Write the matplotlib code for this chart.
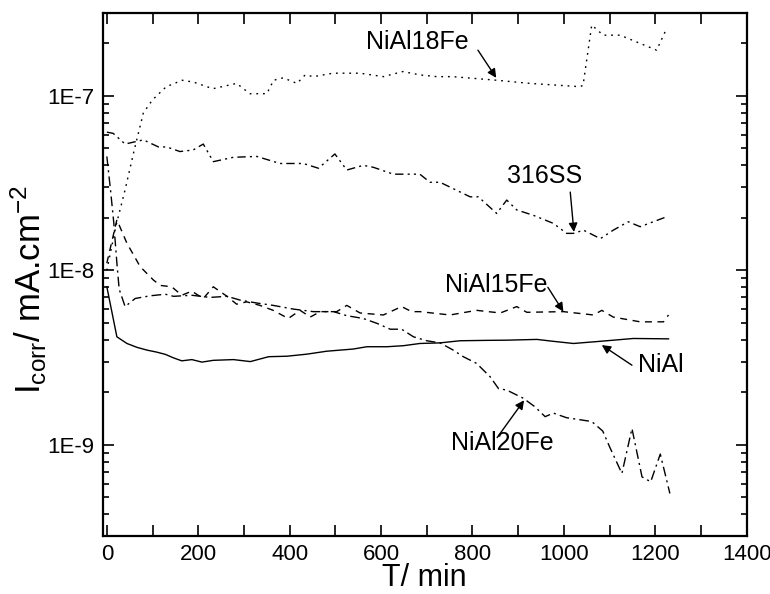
import numpy as np
import matplotlib
matplotlib.use("Agg")
import matplotlib.pyplot as plt
from matplotlib.ticker import MultipleLocator, LogLocator, FuncFormatter, NullFormatter

# --- data (time in min, current in mA/cm^2) --------------------------------

nial_t = [0, 22, 44, 66, 88, 109, 128, 146, 164, 186, 208, 233, 277, 314, 354,
          394, 438, 481, 539, 569, 613, 649, 685, 729, 773, 831, 875, 941, 977,
          1021, 1079, 1152, 1229]
nial_i = [8.05e-9, 4.16e-9, 3.81e-9, 3.62e-9, 3.49e-9, 3.4e-9, 3.3e-9, 3.15e-9,
          3.03e-9, 3.08e-9, 2.98e-9, 3.05e-9, 3.08e-9, 3.0e-9, 3.2e-9, 3.22e-9,
          3.31e-9, 3.44e-9, 3.54e-9, 3.65e-9, 3.65e-9, 3.7e-9, 3.81e-9, 3.84e-9,
          3.95e-9, 3.97e-9, 3.98e-9, 4.02e-9, 3.92e-9, 3.81e-9, 3.92e-9, 4.07e-9,
          4.05e-9]

nial15_t = [0, 22, 44, 73, 102, 117, 142, 164, 186, 211, 233, 263, 284, 306, 335,
            364, 397, 423, 445, 467, 503, 525, 554, 605, 645, 667, 685, 751, 809,
            861, 897, 919, 999, 1065, 1083, 1108, 1167, 1218, 1229]
nial15_i = [1.1e-8, 1.95e-8, 1.43e-8, 1.05e-8, 8.8e-9, 8.2e-9, 8.05e-9, 7.2e-9,
            7.6e-9, 6.9e-9, 8.05e-9, 7.1e-9, 6.4e-9, 6.6e-9, 6.3e-9, 5.9e-9,
            5.3e-9, 5.9e-9, 5.4e-9, 5.8e-9, 5.8e-9, 6.3e-9, 5.7e-9, 5.55e-9,
            6.2e-9, 5.8e-9, 5.8e-9, 5.55e-9, 5.9e-9, 5.7e-9, 6.2e-9, 5.75e-9,
            5.8e-9, 5.55e-9, 5.9e-9, 5.4e-9, 5.07e-9, 5.07e-9, 5.55e-9]

nial18_t = [0, 20, 40, 60, 80, 100, 130, 165, 190, 232, 284, 313, 350, 365, 386,
            416, 434, 452, 495, 554, 605, 648, 685, 722, 757, 853, 926, 1035,
            1042, 1061, 1086, 1123, 1203, 1225]
nial18_i = [1.0e-8, 1.8e-8, 2.9e-8, 4.9e-8, 8.0e-8, 9.5e-8, 1.13e-7, 1.23e-7,
            1.2e-7, 1.1e-7, 1.18e-7, 1.03e-7, 1.03e-7, 1.23e-7, 1.27e-7, 1.18e-7,
            1.32e-7, 1.29e-7, 1.35e-7, 1.35e-7, 1.29e-7, 1.38e-7, 1.32e-7,
            1.29e-7, 1.29e-7, 1.23e-7, 1.18e-7, 1.13e-7, 1.15e-7, 2.55e-7,
            2.23e-7, 2.23e-7, 1.83e-7, 2.44e-7]

nial20_t = [0, 8, 15, 22, 27, 40, 62, 95, 128, 146, 186, 226, 263, 292, 328, 364,
            408, 452, 496, 525, 561, 591, 620, 645, 671, 700, 729, 758, 780, 809,
            839, 857, 875, 911, 937, 959, 977, 1006, 1061, 1085, 1100, 1127, 1149,
            1171, 1190, 1211, 1232]
nial20_i = [4.5e-8, 2.9e-8, 1.9e-8, 1.1e-8, 7.8e-9, 6.2e-9, 6.9e-9, 7.15e-9,
            7.3e-9, 7.1e-9, 7.2e-9, 7.0e-9, 7.1e-9, 6.75e-9, 6.5e-9, 6.3e-9,
            6.0e-9, 5.8e-9, 5.8e-9, 5.5e-9, 5.3e-9, 4.97e-9, 4.6e-9, 4.6e-9,
            4.16e-9, 3.95e-9, 3.84e-9, 3.49e-9, 3.2e-9, 2.93e-9, 2.45e-9, 2.1e-9,
            2.06e-9, 1.85e-9, 1.65e-9, 1.45e-9, 1.52e-9, 1.43e-9, 1.36e-9, 1.2e-9,
            9.75e-10, 6.85e-10, 1.24e-9, 6.55e-10, 6.14e-10, 8.85e-10, 5.26e-10]

ss316_t = [0, 14, 40, 80, 113, 131, 160, 189, 211, 233, 277, 328, 379, 430, 463,
           499, 525, 561, 583, 627, 685, 707, 729, 795, 813, 853, 875, 897, 933,
           977, 1006, 1021, 1043, 1080, 1108, 1141, 1167, 1225]
ss316_i = [6.2e-8, 6.1e-8, 5.3e-8, 5.6e-8, 5.1e-8, 5.1e-8, 4.8e-8, 4.9e-8,
           5.3e-8, 4.2e-8, 4.45e-8, 4.5e-8, 4.1e-8, 4.1e-8, 3.85e-8, 4.65e-8,
           3.76e-8, 4.0e-8, 3.9e-8, 3.56e-8, 3.56e-8, 3.2e-8, 3.2e-8, 2.64e-8,
           2.64e-8, 2.12e-8, 2.53e-8, 2.22e-8, 2.07e-8, 1.86e-8, 1.63e-8, 1.63e-8,
           1.7e-8, 1.52e-8, 1.7e-8, 1.9e-8, 1.78e-8, 2.03e-8]

# curve labels: text centre, arrow tail, arrow tip
labels = ["NiAl18Fe", "316SS", "NiAl15Fe", "NiAl", "NiAl20Fe"]
label_xy = [(679, 2.04e-7), (959, 3.47e-8), (852, 8.24e-9), (1213, 2.86e-9), (866, 1.02e-9)]
tail_xy = [(812, 1.83e-7), (1014, 2.81e-8), (965, 8.0e-9), (1149, 2.86e-9), (854, 1.1e-9)]
tip_xy = [(852, 1.27e-7), (1022, 1.66e-8), (999, 5.8e-9), (1083, 3.73e-9), (913, 1.8e-9)]

# --- plot ------------------------------------------------------------------

plt.rcParams['font.family'] = ['Liberation Sans', 'DejaVu Sans']
plt.rcParams['mathtext.default'] = 'regular'

fig = plt.figure(figsize=(7.7, 5.94), dpi=100)
ax = fig.add_axes([0.1334, 0.0976, 0.8363, 0.881])

lw = 1.0
ax.plot(nial_t, nial_i, color='k', lw=lw, ls='-')
ax.plot(nial15_t, nial15_i, color='k', lw=lw, ls=(0, (5, 4)))
ax.plot(nial18_t, nial18_i, color='k', lw=lw, ls=(0, (1.3, 3.5)))
ax.plot(nial20_t, nial20_i, color='k', lw=lw, ls=(0, (7, 3, 1.5, 3)))
ax.plot(ss316_t, ss316_i, color='k', lw=lw, ls=(0, (6, 3, 1.5, 3, 1.5, 3)))

for txt, pos, tail, tip in zip(labels, label_xy, tail_xy, tip_xy):
    ax.text(pos[0], pos[1], txt, ha='center', va='center', fontsize=18)
    ax.annotate('', xy=tip, xytext=tail,
                arrowprops=dict(arrowstyle='-|>', color='k', lw=1.0,
                                mutation_scale=13, shrinkA=0, shrinkB=0))

ax.set_yscale('log')
ax.set_xlim(-9, 1400)
ax.set_ylim(3e-10, 3e-7)

ax.xaxis.set_major_locator(MultipleLocator(200))
ax.xaxis.set_minor_locator(MultipleLocator(100))
ax.yaxis.set_major_locator(LogLocator(base=10, numticks=10))
ax.yaxis.set_minor_locator(LogLocator(base=10, subs=np.arange(2, 10), numticks=10))
ax.yaxis.set_major_formatter(FuncFormatter(lambda v, p: "1E%d" % round(np.log10(v))))
ax.yaxis.set_minor_formatter(NullFormatter())

ax.tick_params(which='both', direction='in', top=True, right=True, width=1.2,
               labelsize=16)
ax.tick_params(axis='x', which='both', length=8, pad=6)
ax.tick_params(axis='y', which='major', length=8, pad=6)
ax.tick_params(axis='y', which='minor', length=4.5)

for s in ax.spines.values():
    s.set_linewidth(1.6)

ax.set_xlabel("T/ min", fontsize=22, labelpad=-2)
ax.set_ylabel("I$_{corr}$/ mA.cm$^{-2}$", fontsize=25)
ax.yaxis.set_label_coords(-0.084, 0.472)

fig.savefig("out.png", dpi=100)
